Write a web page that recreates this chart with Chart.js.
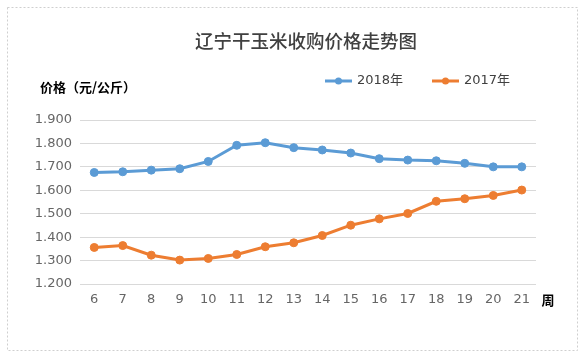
<!DOCTYPE html>
<html>
<head>
<meta charset="utf-8">
<script src="https://cdn.jsdelivr.net/npm/chart.js@4/dist/chart.umd.min.js"></script>
<style>
html,body{margin:0;padding:0;background:#fff;}
#wrap{width:588px;height:357px;}
</style>
</head>
<body>
<div id="wrap"><canvas id="c" width="588" height="357"></canvas></div>
<script>
const chartTitle = '辽宁干玉米收购价格走势图';
const yAxisTitle = '价格（元/公斤）';
const xAxisTitle = '周';
const weeks = ['6','7','8','9','10','11','12','13','14','15','16','17','18','19','20','21'];
const seriesNames = ['2018年','2017年'];
const price2018 = [1.676,1.679,1.686,1.692,1.723,1.792,1.803,1.782,1.772,1.759,1.735,1.729,1.726,1.715,1.700,1.700];
const price2017 = [1.356,1.364,1.323,1.302,1.309,1.326,1.359,1.376,1.407,1.451,1.478,1.501,1.553,1.564,1.578,1.601];
const yMin = 1.2, yMax = 1.9, yStep = 0.1;

const BLUE = '#5B9BD5', ORANGE = '#ED7D31';
const TICKFONT = {family:'"DejaVu Sans", sans-serif', size:13};
const CJK = '"Noto Sans CJK SC", sans-serif';

const decor = {
  id:'decor',
  afterDraw(chart){
    const ctx = chart.ctx;
    ctx.save();
    // dashed frame
    ctx.strokeStyle = '#cfcfcf';
    ctx.lineWidth = 1;
    ctx.setLineDash([2,2]);
    ctx.strokeRect(7.5,7.5,570,343);
    ctx.setLineDash([]);
    // title
    ctx.fillStyle = '#404040';
    ctx.font = '500 18.5px ' + CJK;
    ctx.textAlign = 'center';
    ctx.textBaseline = 'middle';
    ctx.fillText(chartTitle, 306, 41);
    // y axis title
    ctx.fillStyle = '#000';
    ctx.font = 'bold 13px ' + CJK;
    ctx.textAlign = 'left';
    ctx.fillText(yAxisTitle, 40, 87);
    // x axis title
    ctx.font = 'bold 13px ' + CJK;
    ctx.textAlign = 'center';
    ctx.fillText(xAxisTitle, 548, 300);
    // legend
    const items = [{x:325},{x:432}];
    chart.data.datasets.forEach((ds,i)=>{
      const x0 = items[i].x, y = 81;
      ctx.strokeStyle = ds.borderColor;
      ctx.lineWidth = 3;
      ctx.beginPath(); ctx.moveTo(x0,y); ctx.lineTo(x0+27,y); ctx.stroke();
      ctx.fillStyle = ds.borderColor;
      ctx.beginPath(); ctx.arc(x0+13.5,y,3.5,0,Math.PI*2); ctx.fill();
      ctx.fillStyle = '#404040';
      ctx.font = '13px "DejaVu Sans", ' + CJK;
      ctx.textAlign = 'left';
      ctx.textBaseline = 'middle';
      ctx.fillText(ds.label, x0+32, y);
    });
    ctx.restore();
  }
};

new Chart(document.getElementById('c'), {
  type:'line',
  data:{
    labels:weeks,
    datasets:[
      {label:seriesNames[0], data:price2018, borderColor:BLUE, backgroundColor:BLUE, borderWidth:3,
       pointRadius:4, pointBackgroundColor:BLUE, pointBorderColor:BLUE, pointBorderWidth:1, tension:0},
      {label:seriesNames[1], data:price2017, borderColor:ORANGE, backgroundColor:ORANGE, borderWidth:3,
       pointRadius:4, pointBackgroundColor:ORANGE, pointBorderColor:ORANGE, pointBorderWidth:1, tension:0}
    ]
  },
  options:{
    responsive:false,
    animation:false,
    devicePixelRatio:1,
    layout:{padding:{left:30,right:52,top:120,bottom:43}},
    plugins:{legend:{display:false}, title:{display:false}, tooltip:{enabled:false}},
    scales:{
      x:{
        offset:true,
        grid:{display:false, drawTicks:false},
        border:{display:false},
        ticks:{color:'#666666', font:TICKFONT, padding:8, maxRotation:0, autoSkip:false},
        afterFit(s){ s.height = 30; }
      },
      y:{
        min:yMin, max:yMax,
        grid:{color:'#d9d9d9', lineWidth:1, drawTicks:false},
        border:{display:false},
        ticks:{stepSize:yStep, color:'#666666', font:TICKFONT, padding:8,
               callback:v=>Number(v).toFixed(3)},
        afterFit(s){ s.width = 50; }
      }
    }
  },
  plugins:[decor]
});
</script>
</body>
</html>
